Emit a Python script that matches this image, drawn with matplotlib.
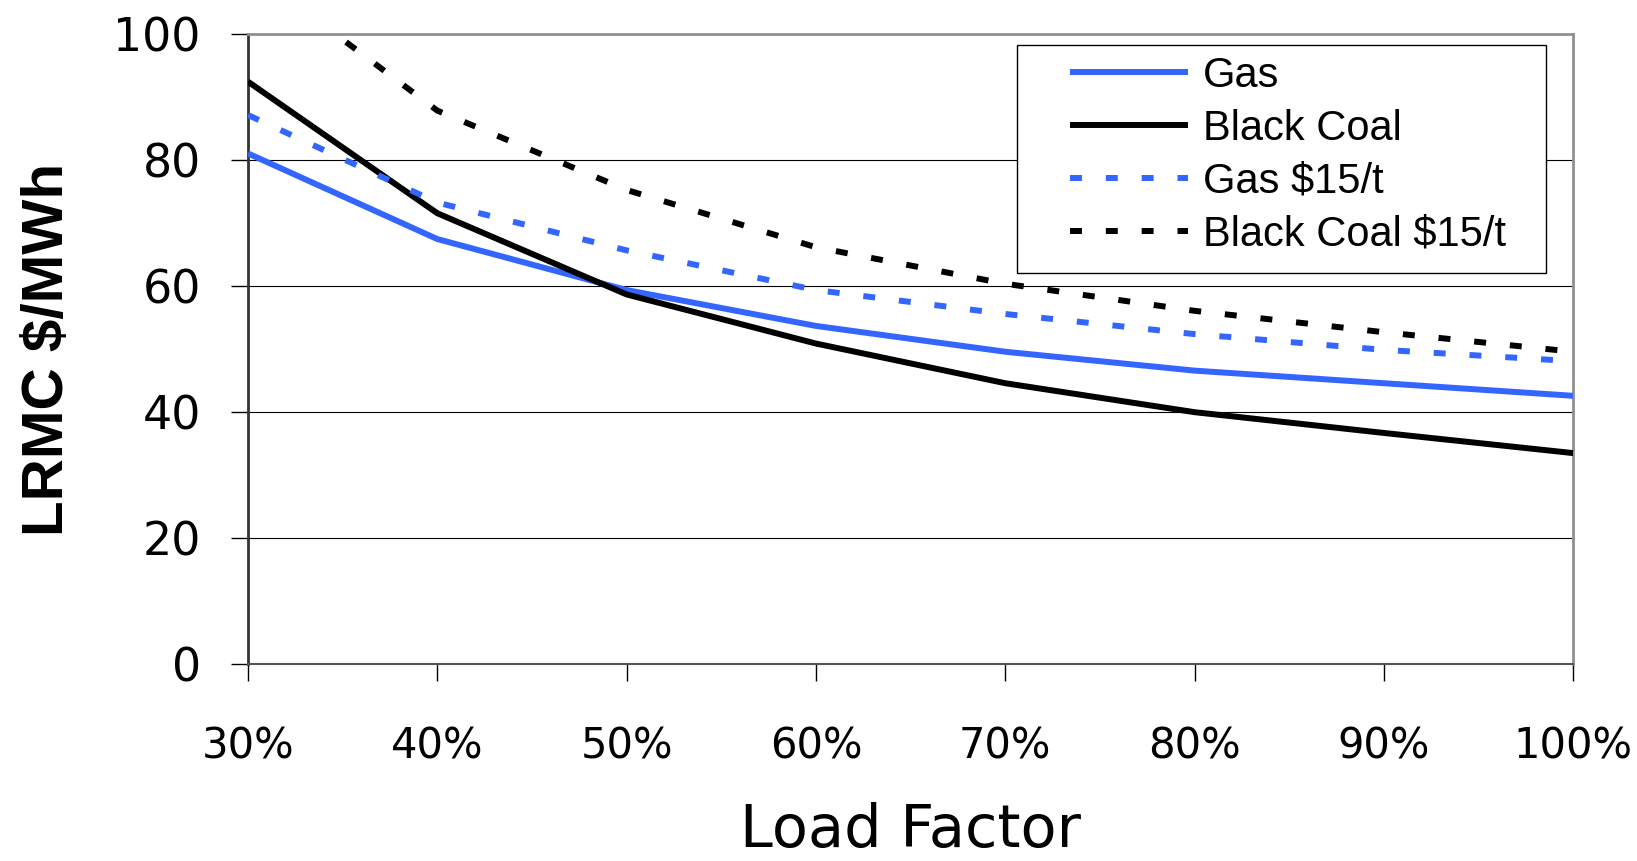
import matplotlib
matplotlib.use("Agg")
import matplotlib.pyplot as plt
from matplotlib.patches import Rectangle
from matplotlib import font_manager as fm

load_factor = [30, 40, 50, 60, 70, 80, 90, 100]
gas = [81.1, 67.5, 59.4, 53.7, 49.6, 46.6, 44.6, 42.6]
black_coal = [92.5, 71.6, 58.7, 50.9, 44.6, 40.0, 36.7, 33.5]
gas_15 = [87.2, 73.3, 65.7, 59.4, 55.6, 52.4, 49.9, 48.1]
black_coal_15 = [110.5, 87.9, 75.3, 66.2, 60.4, 56.1, 52.7, 49.6]
x_ticks = [30, 40, 50, 60, 70, 80, 90, 100]
x_labels = ["30%", "40%", "50%", "60%", "70%", "80%", "90%", "100%"]
y_ticks = [0, 20, 40, 60, 80, 100]

names = {f.name for f in fm.fontManager.ttflist}
narrow = "Liberation Sans Narrow" if "Liberation Sans Narrow" in names else "Liberation Sans"

BLUE = "#3366ff"
dpi = 100
fig = plt.figure(figsize=(16.37, 8.61), dpi=dpi)
ax = fig.add_axes([0.1515, 0.2288, 0.961 - 0.1515, 0.960 - 0.2288])

lw = 4.3
dash = (2.0, 4.0)
ax.plot(load_factor, gas, color=BLUE, lw=lw, solid_capstyle="butt", label="Gas", zorder=3)
ax.plot(load_factor, black_coal, color="black", lw=lw, solid_capstyle="butt", label="Black Coal", zorder=3)
ax.plot(load_factor, gas_15, color=BLUE, lw=lw, linestyle=(0, dash), dash_capstyle="butt", label="Gas $15/t", zorder=3)
ax.plot(load_factor, black_coal_15, color="black", lw=lw, linestyle=(0, dash), dash_capstyle="butt", label="Black Coal $15/t", zorder=3)

ax.set_xlim(30, 100)
ax.set_ylim(0, 100)
ax.set_xticks(x_ticks)
ax.set_xticklabels(x_labels, fontsize=30, family="DejaVu Sans")
ax.set_yticks(y_ticks)
ax.set_yticklabels([str(v) for v in y_ticks], fontsize=33, family="DejaVu Sans")
ax.tick_params(axis="x", length=12, width=1, pad=32, direction="out")
ax.tick_params(axis="y", length=12, width=1, pad=22, direction="out")

for y in [20, 40, 60, 80]:
    ax.axhline(y, color="black", lw=0.8, zorder=1)

ax.spines["left"].set_color("#333333")
ax.spines["left"].set_linewidth(2)
ax.spines["bottom"].set_color("#555555")
ax.spines["bottom"].set_linewidth(1.5)
ax.spines["top"].set_color("#909090")
ax.spines["top"].set_linewidth(2)
ax.spines["right"].set_color("#909090")
ax.spines["right"].set_linewidth(2)

ax.set_xlabel("Load Factor", fontsize=42.5, family="DejaVu Sans", labelpad=25)
ax.set_ylabel("LRMC $/MWh", fontsize=42, family=narrow, fontweight="bold", labelpad=28)

# legend frame drawn as a box
box = Rectangle((0.580, 0.6203), 0.9796 - 0.580, 0.9833 - 0.6203, transform=ax.transAxes,
                facecolor="white", edgecolor="black", lw=1.0, zorder=4.9, clip_on=False)
ax.add_patch(box)

leg = ax.legend(loc="upper left", bbox_to_anchor=(0.6204, 0.966),
                prop={"family": narrow, "size": 30}, frameon=False,
                handlelength=2.83, handletextpad=0.35,
                labelspacing=0.31, borderpad=0.0, borderaxespad=0)
leg.set_zorder(5)

fig.savefig("out.png", dpi=dpi, facecolor="white")
